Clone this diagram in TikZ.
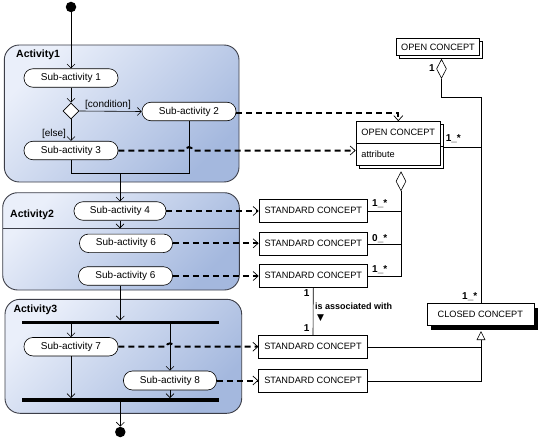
\documentclass[tikz,border=0pt]{standalone}
\usepackage{fontspec}
\setmainfont{Liberation Sans}
\newfontfamily\symfont{DejaVu Sans}
\usetikzlibrary{arrows.meta,shapes.geometric,shapes.multipart,shadows,calc}
\definecolor{actlight}{RGB}{234,239,250}
\definecolor{actdark}{RGB}{164,184,222}
\definecolor{actborder}{RGB}{60,62,72}
\begin{document}
\begin{tikzpicture}[x=1pt,y=-1pt,
  actbox/.style={draw=actborder, line width=0.9pt, rounded corners=15pt, top color=actlight, bottom color=actdark, shading angle=45},
  subact/.style={draw=black, line width=0.6pt, fill=white, rounded corners=9pt, minimum width=94pt, minimum height=18.5pt, inner sep=0pt, font=\fontsize{10}{12}\selectfont},
  concept/.style={draw=black, line width=0.6pt, fill=white, minimum width=108.7pt, minimum height=23pt, inner sep=0pt, font=\fontsize{9.2}{11}\selectfont},
  openbox/.style={draw=black, line width=0.6pt, fill=white, inner sep=0pt, font=\fontsize{9.2}{11}\selectfont,
    copy shadow={shadow xshift=3pt, shadow yshift=-3pt, draw=black, fill=white}},
  closedbox/.style={concept, minimum width=107pt, minimum height=22pt,
    drop shadow={shadow xshift=4.5pt, shadow yshift=-4.5pt, fill=black, opacity=1}},
  flow/.style={line width=0.6pt, -{Straight Barb[length=4pt,width=8pt,line width=0.6pt]}},
  dep/.style={line width=2pt, dash pattern=on 6pt off 4pt, -{Straight Barb[length=5pt,width=9pt,line width=0.7pt]}},
  assoc/.style={line width=0.6pt},
  aggr/.style={diamond, draw=black, line width=0.6pt, fill=white, minimum width=10pt, minimum height=19pt, inner sep=0pt, anchor=north},
  mult/.style={font=\bfseries\fontsize{10}{11}\selectfont, inner sep=0pt},
  guard/.style={font=\fontsize{10}{12}\selectfont, inner sep=0pt},
  actlabel/.style={font=\bfseries\fontsize{10.5}{12}\selectfont, inner sep=0pt, anchor=west},
  barnode/.style={fill=black, minimum width=197.3pt, minimum height=3.5pt, inner sep=0pt},
  dot/.style={circle, fill=black, minimum size=10.5pt, inner sep=0pt},
]
\useasboundingbox (0,0) rectangle (540,441);

% activity containers
\path[actbox] (4.3,45) rectangle (239,182);
\path[actbox] (2.7,192.7) rectangle (239.3,290);
\draw[actborder, line width=0.9pt] (2.7,228.3) coordinate (sepl) -- (239.3,228.3) coordinate (sepr);
\path[actbox] (5,299.3) rectangle (241.7,413.3);

\node[actlabel] (l1) at (16,55) {Activity1};
\node[actlabel] (l2) at (10,215) {Activity2};
\node[actlabel] (l3) at (13.3,310) {Activity3};

% activity nodes
\node[dot] (start) at (71,7) {};
\node[subact] (sub1) at (71,78) {Sub-activity 1};
\node[diamond, draw=black, line width=0.6pt, fill=white, minimum width=16pt, minimum height=16pt, inner sep=0pt] (dec) at (71,111) {};
\node[subact] (sub2) at (189,111.5) {Sub-activity 2};
\node[subact] (sub3) at (71,150.5) {Sub-activity 3};
\node[subact, minimum width=92pt] (sub4) at (120,211) {Sub-activity 4};
\node[subact, minimum width=93pt] (sub6a) at (126,243.3) {Sub-activity 6};
\node[subact] (sub6b) at (125.5,276) {Sub-activity 6};
\node[barnode] (fork) at (120.3,322.3) {};
\node[subact] (sub7) at (71,346.7) {Sub-activity 7};
\node[subact, minimum width=93pt, minimum height=19pt] (sub8) at (170,380.5) {Sub-activity 8};
\node[barnode] (join) at (120.3,400) {};
\node[dot] (final) at (120.3,432) {};

\node[guard] (gc) at (108,104.5) {[condition]};
\node[guard] (ge) at (54,133.5) {[else]};

% control flow
\draw[flow] (start) -- (sub1.north);
\draw[flow] (sub1.south) -- (dec.north);
\draw[flow] (dec.east) -- (sub2.west);
\draw[flow] (dec.south) -- (sub3.north);
\coordinate (m1) at (71,173);
\coordinate (m2) at (189,173);
\coordinate (m3) at (120,173);
\draw[assoc] (sub3.south) -- (m1) -- (m2) -- (sub2.south);
\draw[flow] (m3) -- (sub4.north);
\draw[flow] (sub4.south) -- (sub4.south |- sepl);
\draw[flow] (sub6b.south -| fork.north) -- (fork.north);
\draw[flow] (fork.south -| sub7.north) -- (sub7.north);
\draw[flow] (fork.south -| sub8.north) -- (sub8.north);
\draw[flow] (sub7.south) -- (sub7.south |- join.north);
\draw[flow] (sub8.south) -- (sub8.south |- join.north);
\draw[flow] (join.south) -- (final.north);

% concepts
\node[openbox, minimum width=82.6pt, minimum height=17.4pt] (oc1) at (438,47) {OPEN CONCEPT};
\node[aggr] (agg1) at (441.5,59) {};
\node[openbox, rectangle split, rectangle split parts=2, rectangle split part align=left,
      inner xsep=5.5pt, inner ysep=7.3pt, minimum width=84.7pt, minimum height=44.7pt] (oc2) at (398.3,143.3)
      {OPEN CONCEPT\nodepart{two}attribute};
\node[aggr] (agg2) at (401,171.5) {};

\node[concept] (sc1) at (313.3,210.8) {STANDARD CONCEPT};
\node[concept] (sc2) at (313.3,243.8) {STANDARD CONCEPT};
\node[concept] (sc3) at (313.3,275.8) {STANDARD CONCEPT};
\node[concept] (sc4) at (313,346.8) {STANDARD CONCEPT};
\node[concept] (sc5) at (313,380.8) {STANDARD CONCEPT};
\node[closedbox] (closed) at (480.3,314.2) {CLOSED CONCEPT};
\node[isosceles triangle, isosceles triangle stretches, shape border rotate=90, draw=black, line width=0.6pt, fill=white,
      minimum width=8pt, minimum height=8pt, inner sep=0pt, anchor=apex] (gen) at (481,331) {};

% dependencies
\draw[dep] ($(sub2.east)+(0,1.5)$) coordinate (s2e) -| (oc2.north);
\draw[dep] (sub3.east) -- ($(m2 |- sub3.east)+(-3.5,0)$) .. controls +(0,-4.5) and +(0,-4.5) .. ($(m2 |- sub3.east)+(3.5,0)$) -- (sub3.east -| oc2.west);
\draw[dep] (sub4.east) -- (sub4.east -| sc1.west);
\draw[dep] (sub6a.east) -- (sub6a.east -| sc2.west);
\draw[dep] (sub6b.east) -- (sub6b.east -| sc3.west);
\draw[dep] (sub7.east) -- ($(sub8.north |- sub7.east)+(-3.5,0)$) .. controls +(0,-4.5) and +(0,-4.5) .. ($(sub8.north |- sub7.east)+(3.5,0)$) -- (sub7.east -| sc4.west);
\draw[dep] (sub8.east) -- (sub8.east -| sc5.west);

% associations
\coordinate (c1) at (441.5,97);
\coordinate (c2) at (481,97);
\draw[assoc] (agg1.south) -- (c1) -- (c2) -- (closed.north -| c2);
\draw[assoc] ($(oc2.east)+(3,4.4)$) coordinate (oce) -- (oce -| c2);
\draw[assoc] (agg2.south) -- (agg2.south |- sc3.east) -- (sc3.east);
\draw[assoc] (sc1.east) -- (sc1.east -| agg2.south);
\draw[assoc] (sc2.east) -- (sc2.east -| agg2.south);
\draw[assoc] (sc3.south) -- (sc4.north);
\draw[assoc] (gen.south) -- (gen.south |- sc5.east) -- (sc5.east);
\draw[assoc] (sc4.east) -- (sc4.east -| gen.south);

% multiplicities
\node[mult] (k1) at (432,68) {1};
\node[mult] (k2) at (453.3,139) {1\_*};
\node[mult] (k3) at (379.7,203.5) {1\_*};
\node[mult] (k4) at (379.7,238.3) {0\_*};
\node[mult] (k5) at (379.7,269.7) {1\_*};
\node[mult] (k6) at (469.7,296.3) {1\_*};
\node[mult] (k7) at (306.7,293) {1};
\node[mult] (k8) at (306.7,327.7) {1};
\node[mult, font=\bfseries\fontsize{9}{10}\selectfont, anchor=west] (assocname) at (315,306) {is associated with};
\node[inner sep=0pt, font=\symfont\fontsize{9}{10}\selectfont] (assocdir) at (320.5,318) {▼};
\end{tikzpicture}
\end{document}
